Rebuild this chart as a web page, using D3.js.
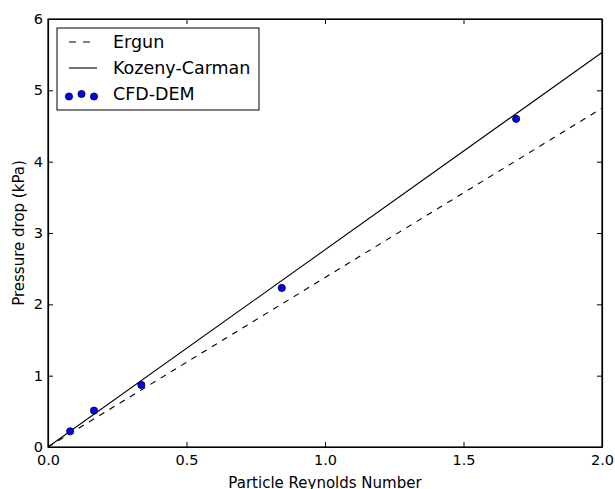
<!DOCTYPE html>
<html>
<head>
<meta charset="utf-8">
<script src="https://cdn.jsdelivr.net/npm/d3@7"></script>
<style>
  body { margin: 0; background: #fff; }
  text { font-family: "DejaVu Sans", sans-serif; fill: #000; }
</style>
</head>
<body>
<div id="container"></div>
<script>
// --- data ---
var reynolds = [0.08, 0.166, 0.337, 0.844, 1.69];
var cfdDem = [0.22, 0.51, 0.87, 2.23, 4.60];
var ergunX = [0, 2];
var ergunY = [0, 4.75];
var kozenyX = [0, 2];
var kozenyY = [0, 5.53];
var xTicks = [0, 0.5, 1.0, 1.5, 2.0];
var yTicks = [0, 1, 2, 3, 4, 5, 6];

var svgWidth = 615, svgHeight = 489;
var margin = { top: 19, right: 13, bottom: 42, left: 48 },
    width = svgWidth - margin.left - margin.right,
    height = svgHeight - margin.top - margin.bottom;

var svg = d3.select("div#container")
    .append("svg")
    .attr("width", svgWidth)
    .attr("height", svgHeight)
    .append("g")
    .attr("transform", "translate(" + margin.left + "," + margin.top + ")");

var x = d3.scaleLinear().domain([0, 2]).range([0, width]);
var y = d3.scaleLinear().domain([0, 6]).range([height, 0]);

// --- lines ---
var line = d3.line().x(d => x(d[0])).y(d => y(d[1]));

svg.append("path")
    .datum(d3.zip(ergunX, ergunY))
    .attr("d", line)
    .attr("fill", "none")
    .attr("stroke", "#000")
    .attr("stroke-width", 1.1)
    .attr("stroke-dasharray", "6,6");

svg.append("path")
    .datum(d3.zip(kozenyX, kozenyY))
    .attr("d", line)
    .attr("fill", "none")
    .attr("stroke", "#000")
    .attr("stroke-width", 1.1);

// --- scatter ---
svg.selectAll("circle.pt")
    .data(d3.zip(reynolds, cfdDem))
    .enter()
    .append("circle")
    .attr("class", "pt")
    .attr("cx", d => x(d[0]))
    .attr("cy", d => y(d[1]))
    .attr("r", 3.6)
    .attr("fill", "#0000ff")
    .attr("stroke", "#000")
    .attr("stroke-width", 0.8);

// --- axes (ticks inside, all four sides) ---
var tickLen = 5;
svg.append("g")
    .attr("transform", "translate(0," + height + ")")
    .call(d3.axisBottom(x).tickValues(xTicks).tickFormat(d3.format(".1f")).tickSizeInner(-tickLen).tickSizeOuter(0).tickPadding(8))
    .call(g => g.selectAll("text").style("font-size", "14.5px"));
svg.append("g")
    .call(d3.axisTop(x).tickValues(xTicks).tickFormat("").tickSizeInner(-tickLen).tickSizeOuter(0));
svg.append("g")
    .call(d3.axisLeft(y).tickValues(yTicks).tickFormat(d3.format("d")).tickSizeInner(-tickLen).tickSizeOuter(0).tickPadding(5))
    .call(g => g.selectAll("text").style("font-size", "14.5px"));
svg.append("g")
    .attr("transform", "translate(" + width + ",0)")
    .call(d3.axisRight(y).tickValues(yTicks).tickFormat("").tickSizeInner(-tickLen).tickSizeOuter(0));

svg.selectAll(".domain").attr("stroke", "#000").attr("stroke-width", 1.2);
svg.selectAll(".tick line").attr("stroke", "#000");

// frame
svg.append("rect")
    .attr("width", width).attr("height", height)
    .attr("fill", "none").attr("stroke", "#000").attr("stroke-width", 1.2);

// --- axis labels ---
svg.append("text")
    .attr("x", width / 2)
    .attr("y", height + 41)
    .attr("text-anchor", "middle")
    .style("font-size", "15px")
    .text("Particle Reynolds Number");

svg.append("text")
    .attr("transform", "translate(" + (-24) + "," + (height / 2) + ") rotate(-90)")
    .attr("text-anchor", "middle")
    .style("font-size", "15px")
    .text("Pressure drop (kPa)");

// --- legend ---
var legend = svg.append("g").attr("transform", "translate(9,9)");
legend.append("rect")
    .attr("width", 202).attr("height", 82)
    .attr("fill", "#fff").attr("stroke", "#000").attr("stroke-width", 1);

var legendNames = ["Ergun", "Kozeny-Carman", "CFD-DEM"];
legendNames.forEach(function (name, i) {
    var ly = 14 + i * 26;
    if (i === 0 || i === 1) {
        legend.append("line")
            .attr("x1", 12).attr("x2", 40)
            .attr("y1", ly).attr("y2", ly)
            .attr("stroke", "#000").attr("stroke-width", 1.1)
            .attr("stroke-dasharray", i === 0 ? "7,7" : null);
    } else {
        var offs = [[12, 2.5], [24.5, 0], [37, 2.5]];
        offs.forEach(function (o) {
            legend.append("circle")
                .attr("cx", o[0]).attr("cy", ly + o[1])
                .attr("r", 3.6)
                .attr("fill", "#0000ff")
                .attr("stroke", "#000")
                .attr("stroke-width", 0.8);
        });
    }
    legend.append("text")
        .attr("x", 56).attr("y", ly)
        .attr("dy", "0.35em")
        .style("font-size", "17.5px")
        .text(name);
});
</script>
</body>
</html>
